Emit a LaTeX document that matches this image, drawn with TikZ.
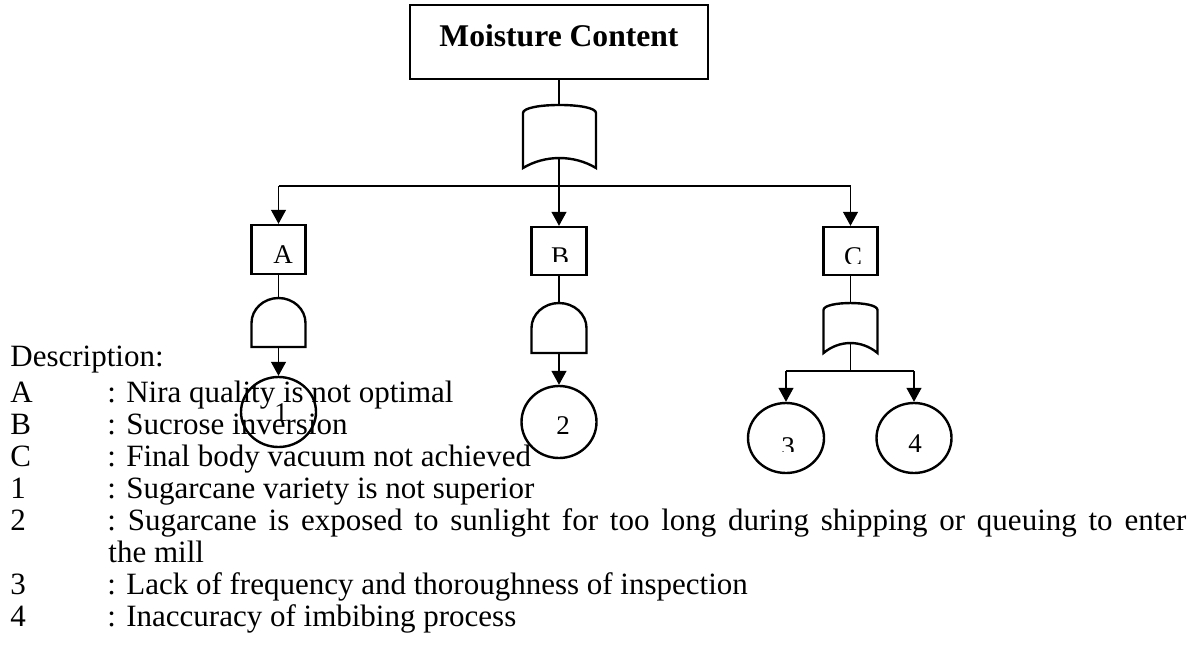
\documentclass[tikz,border=0pt]{standalone}
\usepackage{fontspec}
\setmainfont{Liberation Serif}
\usetikzlibrary{arrows.meta,shapes.geometric}
\begin{document}
\begin{tikzpicture}[x=0.5pt,y=-0.5pt,
  shp/.style={draw, line width=1.2pt},
  conn/.style={line width=0.6pt},
  arr/.style={conn,-{Triangle[length=7pt,width=7.5pt]}},
  evbox/.style={shp, minimum width=27pt, minimum height=24.5pt, inner sep=0pt},
  evcirc/.style={shp, ellipse, minimum width=37.5pt, minimum height=35pt, inner sep=0pt},
  lbl/.style={font=\fontsize{13.5pt}{14pt}\selectfont, inner sep=0pt, anchor=base},
  desc/.style={font=\fontsize{15.5pt}{16pt}\selectfont, inner sep=0pt, anchor=base west}
]
\useasboundingbox (0,0) rectangle (1197,669);

% top event
\node[shp, minimum width=149pt, minimum height=37pt, inner sep=0pt] (top) at (559,42) {};
\node[font=\fontsize{15.8pt}{16pt}\selectfont\bfseries, anchor=base, inner sep=0pt] (toptext) at (559,46) {Moisture Content};

% top OR gate
\draw[shp] (523,168) -- (523,113) .. controls (523,102.3) and (596,102.3) .. (596,113) -- (596,168)
  .. controls (574,154.7) and (545,154.7) .. (523,168) -- cycle;
\coordinate (g0t) at (559,105);
\coordinate (g0b) at (559,158);
\coordinate (hA) at (278.5,186);
\coordinate (hC) at (850.5,186);

% intermediate events
\node[evbox] (A) at (278.5,249.5) {};
\node[evbox, minimum width=27.5pt, minimum height=24pt] (B) at (559,251) {};
\node[evbox, minimum height=24pt] (C) at (850.5,251) {};
\node[lbl] (Atxt) at (283,263) {A};
\begin{scope}
  \clip (532,230) rectangle (587,261);
  \node[lbl] (Btxt) at (560,265) {B};
\end{scope}
\begin{scope}
  \clip (823,230) rectangle (877,263);
  \node[lbl] (Ctxt) at (853,265) {C};
\end{scope}

\draw[conn] (top.south) -- (g0t);
\draw[conn] (hA) -- (hC);
\draw[arr] (g0b) -- (B.north);
\draw[arr] (hA) -- (A.north);
\draw[arr] (hC) -- (C.north);

% AND gate A
\draw[shp] (251.5,347) -- (251.5,323) .. controls (251.5,309.2) and (263.6,298) .. (278.5,298)
  .. controls (293.4,298) and (305.5,309.2) .. (305.5,323) -- (305.5,347) -- cycle;
\coordinate (gAt) at (278.5,298);
\coordinate (gAb) at (278.5,347);
% AND gate B
\draw[shp] (531.5,353) -- (531.5,328) .. controls (531.5,314.2) and (543.8,303) .. (559,303)
  .. controls (574.2,303) and (586.5,314.2) .. (586.5,328) -- (586.5,353) -- cycle;
\coordinate (gBt) at (559,303);
\coordinate (gBb) at (559,353);
% OR gate C
\draw[shp] (823.5,353) -- (823.5,310) .. controls (823.5,300.7) and (877.5,300.7) .. (877.5,310) -- (877.5,353)
  .. controls (861.5,339.7) and (839.5,339.7) .. (823.5,353) -- cycle;
\coordinate (gCt) at (850.5,303);
\coordinate (gCb) at (850.5,343);
\coordinate (hC2) at (850.5,371);
\coordinate (h3) at (786,371);
\coordinate (h4) at (914,371);

\draw[conn] (A.south) -- (gAt);
\draw[conn] (B.south) -- (gBt);
\draw[conn] (C.south) -- (gCt);

% basic events
\node[evcirc] (c1) at (278.5,412) {};
\node[evcirc, minimum height=36pt] (c2) at (559,422) {};
\node[evcirc, minimum width=38pt] (c3) at (786,438) {};
\node[evcirc] (c4) at (914,438) {};
\node[lbl] (t1) at (281,421) {1};
\node[lbl] (t2) at (563,434) {2};
\begin{scope}
  \clip (760,420) rectangle (810,451);
  \node[lbl] (t3) at (788,455) {3};
\end{scope}
\node[lbl] (t4) at (915,452) {4};

\draw[arr] (gAb) -- (c1.north);
\draw[arr] (gBb) -- (c2.north);
\draw[conn] (gCb) -- (hC2);
\draw[conn] (h3) -- (h4);
\draw[arr] (h3) -- (c3.north);
\draw[arr] (h4) -- (c4.north);

% description
\node[desc] (d0) at (10,366) {Description:};
\node[desc] (kA) at (10,402) {A};
\node[desc] (vA) at (107,402) {: Nira quality is not optimal};
\node[desc] (kB) at (10,434) {B};
\node[desc] (vB) at (107,434) {: Sucrose inversion};
\node[desc] (kC) at (10,466) {C};
\node[desc] (vC) at (107,466) {: Final body vacuum not achieved};
\node[desc] (k1) at (10,498) {1};
\node[desc] (v1) at (107,498) {: Sugarcane variety is not superior};
\node[desc] (k2) at (10,530) {2};
\node[desc] (v2) at (107,530) {\makebox[539.5pt][s]{:\ Sugarcane is exposed to sunlight for too long during shipping or queuing to enter}};
\node[desc] (v2b) at (108,562) {the mill};
\node[desc] (k3) at (10,594) {3};
\node[desc] (v3) at (107,594) {: Lack of frequency and thoroughness of inspection};
\node[desc] (k4) at (10,626) {4};
\node[desc] (v4) at (107,626) {: Inaccuracy of imbibing process};
\end{tikzpicture}
\end{document}
